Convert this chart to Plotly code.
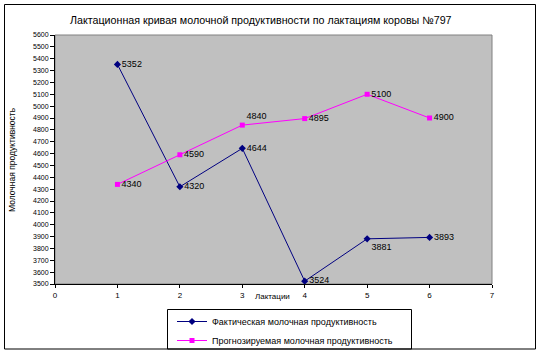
import plotly.graph_objects as go

lactations = [1, 2, 3, 4, 5, 6]
actual = [5352, 4320, 4644, 3524, 3881, 3893]
forecast = [4340, 4590, 4840, 4895, 5100, 4900]
actual_label_pos = ["middle right", "middle right", "middle right", "middle right", "bottom right", "middle right"]
forecast_label_pos = ["middle right", "middle right", "top right", "middle right", "middle right", "middle right"]

title_text = "Лактационная кривая молочной продуктивности по лактациям коровы №797"
y_title = "Молочная продуктивность"
x_title = "Лактации"
name_actual = "Фактическая молочная продуктивность"
name_forecast = "Прогнозируемая молочная продуктивность"

W, H = 540, 354
L, R, T, B = 55, 492, 35, 284
FONT = "Liberation Sans, Arial, sans-serif"


def px(x):
    return (x - L) / (R - L)


def py(y):
    return (B - y) / (B - T)


fig = go.Figure()
fig.add_trace(go.Scatter(
    x=lactations, y=actual, name=name_actual, mode="lines+markers+text",
    line=dict(color="#000080", width=1),
    marker=dict(symbol="diamond", size=5.5, color="#000080"),
    text=[str(v) for v in actual], textposition=actual_label_pos,
    textfont=dict(size=9, color="black", family=FONT),
))
fig.add_trace(go.Scatter(
    x=lactations, y=forecast, name=name_forecast, mode="lines+markers+text",
    line=dict(color="#FF00FF", width=1),
    marker=dict(symbol="square", size=5, color="#FF00FF"),
    text=[str(v) for v in forecast], textposition=forecast_label_pos,
    textfont=dict(size=9, color="black", family=FONT),
))

fig.update_layout(
    width=W, height=H,
    margin=dict(l=L, r=W - R, t=T, b=H - B, pad=0, autoexpand=False),
    paper_bgcolor="white", plot_bgcolor="#C0C0C0",
    font=dict(family=FONT, size=8, color="black"),
    showlegend=True,
    legend=dict(
        x=px(172), y=py(307), xanchor="left", yanchor="top",
        bgcolor="rgba(0,0,0,0)", borderwidth=0,
        font=dict(size=9, family=FONT), tracegroupgap=0,
    ),
    xaxis=dict(
        range=[0, 7], dtick=1, tick0=0, showgrid=False, zeroline=False,
        showline=True, linecolor="black", linewidth=1,
        ticks="outside", ticklen=3, tickcolor="black",
        tickfont=dict(size=8, family=FONT),
    ),
    yaxis=dict(
        range=[3500, 5600], dtick=100, tick0=3500, showgrid=False, zeroline=False,
        showline=True, linecolor="black", linewidth=1,
        ticks="outside", ticklen=4, tickcolor="black",
        tickfont=dict(size=7, family=FONT),
    ),
    shapes=[
        dict(type="rect", xref="paper", yref="paper",
             x0=px(4.5), x1=px(535.5), y0=py(349), y1=py(4.5),
             line=dict(color="black", width=1), layer="below"),
        dict(type="rect", xref="paper", yref="paper",
             x0=0, x1=1, y0=0, y1=1,
             line=dict(color="#808080", width=1), layer="below"),
        dict(type="rect", xref="paper", yref="paper",
             x0=px(167.5), x1=px(411.5), y0=py(349), y1=py(309.5),
             line=dict(color="black", width=1), layer="above"),
    ],
    annotations=[
        dict(text=title_text, xref="paper", yref="paper", x=px(261), y=py(20),
             showarrow=False, xanchor="center", yanchor="middle",
             font=dict(size=10.7, family=FONT)),
        dict(text=y_title, xref="paper", yref="paper", x=px(12), y=py(160),
             showarrow=False, xanchor="center", yanchor="middle", textangle=-90,
             font=dict(size=8.5, family=FONT)),
        dict(text=x_title, xref="paper", yref="paper", x=px(272), y=py(296),
             showarrow=False, xanchor="center", yanchor="middle",
             font=dict(size=8, family=FONT)),
    ],
)

fig.write_html("out.html")
